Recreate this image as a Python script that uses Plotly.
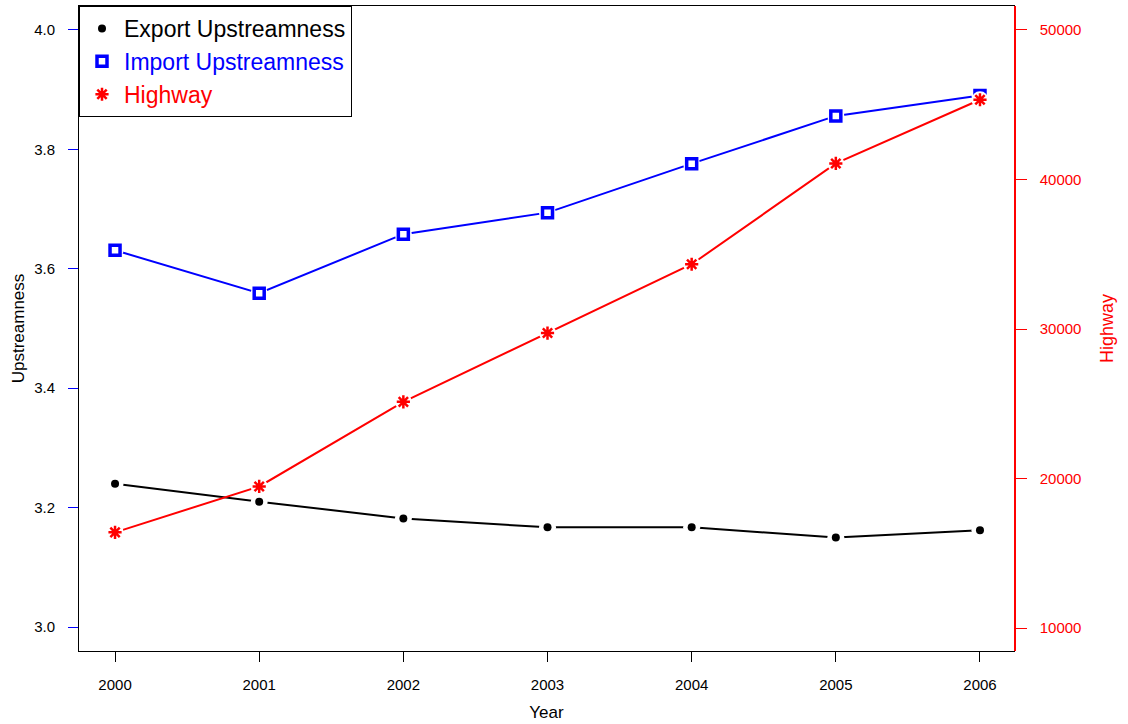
import plotly.graph_objects as go

years = [2000, 2001, 2002, 2003, 2004, 2005, 2006]
export_up = [3.240, 3.210, 3.182, 3.167, 3.167, 3.150, 3.162]
import_up = [3.631, 3.559, 3.658, 3.694, 3.776, 3.856, 3.890]
highway = [16400, 19470, 25130, 29730, 34330, 41070, 45330]

left_ticks = [3.0, 3.2, 3.4, 3.6, 3.8, 4.0]
right_ticks = [10000, 20000, 30000, 40000, 50000]

FONT = "Liberation Sans, Arial, sans-serif"
BLUE = "#0000FF"
RED = "#FF0000"

series = [
    dict(name="Export Upstreamness", y=export_up, color="black", axis="y",
         symbol="circle", size=8, lw=0),
    dict(name="Import Upstreamness", y=import_up, color=BLUE, axis="y",
         symbol="square-open", size=10, lw=3.5),
    dict(name="Highway", y=highway, color=RED, axis="y2",
         symbol="asterisk-open", size=11, lw=2.5),
]

fig = go.Figure()

# connecting lines, each followed by a white halo so the line stops short of the points
for s in series:
    fig.add_trace(go.Scatter(x=years, y=s["y"], yaxis=s["axis"], mode="lines",
                             line=dict(color=s["color"], width=2),
                             showlegend=False, hoverinfo="skip"))
    fig.add_trace(go.Scatter(x=years, y=s["y"], yaxis=s["axis"], mode="markers",
                             marker=dict(symbol="circle", size=17, color="white"),
                             showlegend=False, hoverinfo="skip"))

# point symbols (also used for the legend)
for s in series:
    fig.add_trace(go.Scatter(
        x=years, y=s["y"], yaxis=s["axis"], mode="markers",
        name=f'<span style="color:{s["color"]}">{s["name"]}</span>',
        marker=dict(symbol=s["symbol"], size=s["size"], color=s["color"],
                    line=dict(color=s["color"], width=s["lw"])),
    ))

fig.update_layout(
    width=1128, height=724,
    margin=dict(l=79, r=114, t=5, b=72),
    paper_bgcolor="white", plot_bgcolor="white",
    font=dict(family=FONT, size=15, color="black"),
    showlegend=True,
    legend=dict(x=0, y=1, xanchor="left", yanchor="top",
                bordercolor="black", borderwidth=1, bgcolor="white",
                font=dict(size=23, family=FONT), itemwidth=34,
                tracegroupgap=0),
    xaxis=dict(range=[1999.75, 2006.236], tickvals=years,
               showgrid=False, zeroline=False,
               showline=True, linecolor="black", linewidth=1, mirror=True,
               ticks="outside", ticklen=10, tickcolor="black",
               ticklabelstandoff=10,
               title=dict(text="Year", font=dict(size=17), standoff=14)),
    yaxis=dict(range=[2.960, 4.040], tickvals=left_ticks, tickformat=".1f",
               showgrid=False, zeroline=False,
               showline=True, linecolor="black", linewidth=1, mirror=True,
               ticks="outside", ticklen=10, tickcolor=BLUE,
               ticklabelstandoff=10,
               title=dict(text="Upstreamness", font=dict(size=17), standoff=5)),
    yaxis2=dict(range=[8467, 51600], tickvals=right_ticks, tickformat="d",
                overlaying="y", side="right",
                showgrid=False, zeroline=False,
                showline=True, linecolor=RED, linewidth=1.5,
                ticks="outside", ticklen=11, tickcolor=RED,
                tickfont=dict(color=RED), ticklabelstandoff=10,
                title=dict(text="Highway", font=dict(size=18, color=RED),
                           standoff=20)),
)

fig.write_html("out.html")
